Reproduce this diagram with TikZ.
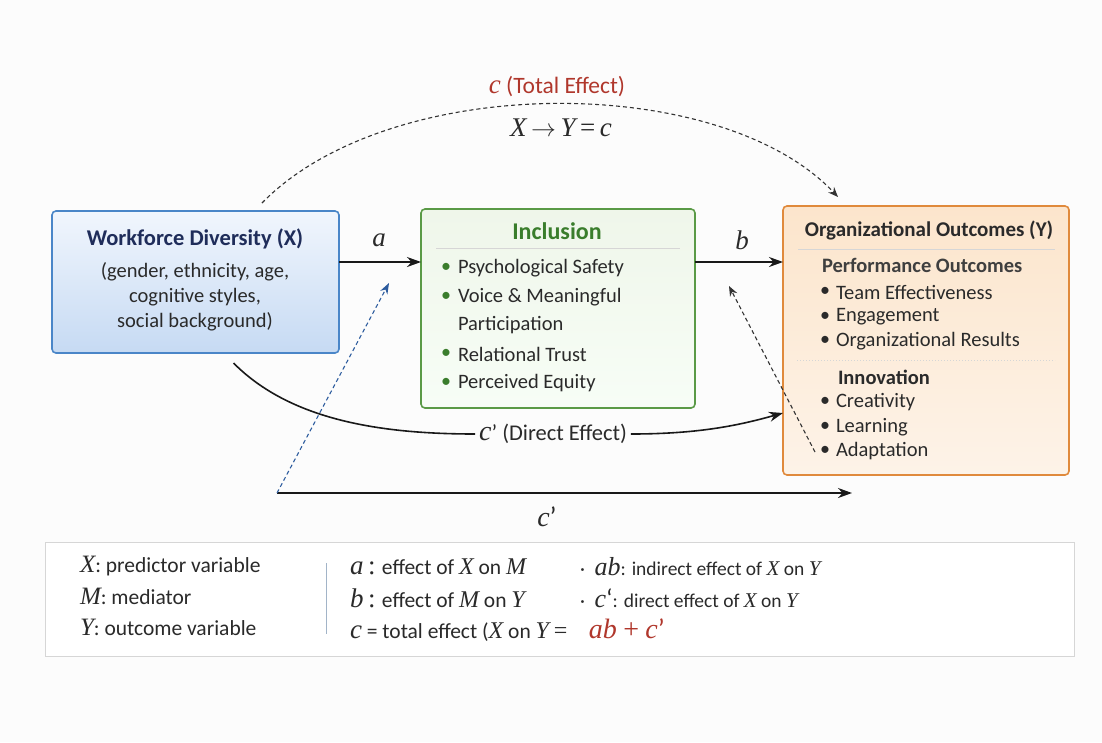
\documentclass[tikz,border=0pt]{standalone}
\usepackage{fontspec}
\setmainfont{Carlito}
\newfontfamily\mfont{Liberation Serif}
\usetikzlibrary{arrows.meta,calc}
\newcommand\mv[1]{{\mfont\itshape #1}}
\definecolor{bgc}{HTML}{FCFCFC}
\definecolor{blueB}{HTML}{4A86C8}
\definecolor{blueT}{HTML}{F1F6FD}
\definecolor{blueBt}{HTML}{C6DAF3}
\definecolor{navy}{HTML}{1F2D5A}
\definecolor{greenB}{HTML}{5A9A46}
\definecolor{greenF}{HTML}{EFF6EA}
\definecolor{greenT}{HTML}{3A7D2C}
\definecolor{orangeB}{HTML}{E08A3C}
\definecolor{orangeT}{HTML}{FCE5CC}
\definecolor{orangeBt}{HTML}{FDF3E8}
\definecolor{txt}{HTML}{2A2A2A}
\definecolor{redc}{HTML}{B0372C}
\definecolor{dblue}{HTML}{2C5B9E}
\definecolor{rule}{HTML}{D6D6D6}
\tikzset{
  every node/.style={inner sep=0pt, outer sep=0pt, text=txt},
  boxx/.style={draw=blueB, line width=1.6pt, rounded corners=4pt, top color=blueT, bottom color=blueBt, anchor=north west},
  boxm/.style={draw=greenB, line width=1.6pt, rounded corners=4pt, top color=greenF, bottom color=greenF!90!green!20, anchor=north west},
  boxy/.style={draw=orangeB, line width=1.6pt, rounded corners=4pt, top color=orangeT, bottom color=orangeBt, anchor=north west},
  body/.style={font=\fontsize{20.5}{22}\selectfont, anchor=west},
  bul/.style={font=\fontsize{20}{22}\selectfont, anchor=center},
  arr/.style={line width=1.6pt, draw=black!90, -{Stealth[length=14pt,width=10pt]}},
  darr/.style={line width=1.1pt, draw=black!80, dashed, dash pattern=on 4pt off 3pt, -{Stealth[length=10pt,width=8pt]}},
  leg/.style={font=\fontsize{21.5}{22}\selectfont, anchor=west},
  legs/.style={font=\fontsize{19.5}{20}\selectfont, anchor=west},
}
\begin{document}
\begin{tikzpicture}[x=1pt,y=-1pt]
\useasboundingbox[fill=bgc] (0,0) rectangle (1102,742);

% boxes
\node[boxx, minimum width=287, minimum height=142] (X) at (52,211) {};
\node[boxm, minimum width=274, minimum height=199] (M) at (421,209) {};
\node[boxy, minimum width=286, minimum height=269] (Y) at (783,206) {};

% X text
\node[font=\fontsize{22.5}{24}\selectfont\bfseries, text=navy] (xt) at (195,239) {Workforce Diversity (X)};
\node[font=\fontsize{20.5}{22}\selectfont] (x1) at (195,272) {(gender, ethnicity, age,};
\node[font=\fontsize{20.5}{22}\selectfont] (x2) at (195,297) {cognitive styles,};
\node[font=\fontsize{20.5}{22}\selectfont] (x3) at (195,322) {social background)};

% M text
\node[font=\fontsize{24}{26}\selectfont\bfseries, text=greenT] (mt) at (557,231) {Inclusion};
\draw[rule, line width=0.8pt] (436,248) -- (680,248);
\foreach \y/\t [count=\i] in {268/Psychological Safety,297/Voice \& Meaningful,354/Relational Trust,383/Perceived Equity}{
  \node[bul, text=greenT] (mb\i) at (446,\y) {\textbullet};
  \node[body] (mi\i) at (458,\y) {\t};
}
\node[body] (mi5) at (458,325) {Participation};

% Y text
\node[font=\fontsize{21}{24}\selectfont\bfseries] (yt) at (929,230) {Organizational Outcomes (Y)};
\draw[rule, line width=0.8pt] (798,249) -- (1055,249);
\node[body, font=\fontsize{20.5}{22}\selectfont\bfseries, text=txt!90] (yp) at (822,265) {Performance Outcomes};
\foreach \y/\t [count=\i] in {292/Team Effectiveness,317/Engagement,341/Organizational Results,402/Creativity,427/Learning,451/Adaptation}{
  \node[bul] (yb\i) at (825,\y) {\textbullet};
  \node[body] (yi\i) at (836,\y) {\t};
}
\draw[rule, line width=1pt, dotted] (797,360) -- (1055,360);
\node[body, font=\fontsize{20.5}{22}\selectfont\bfseries] (yn) at (838,377) {Innovation};

% a and b arrows
\coordinate (ay) at (0,262);
\draw[arr] (X.north east |- ay) -- (M.west |- ay);
\draw[arr] (M.north east |- ay) -- (Y.west |- ay);
\node[font=\fontsize{27}{27}\selectfont] (la) at (379,240) {\mv{a}};
\node[font=\fontsize{27}{27}\selectfont] (lb) at (742,240) {\mv{b}};

% total effect
\coordinate (cs0) at (262,203);
\coordinate (ce0) at (838,197);
\draw[darr] (cs0) .. controls (390,72) and (720,72) .. (ce0);
\node[font=\fontsize{23.5}{24}\selectfont, text=redc] (ct) at (557,87) {{\fontsize{27}{27}\selectfont\mv{c}} (Total Effect)};
\node[font=\fontsize{27}{28}\selectfont] (ce) at (561,128) {\mv{X}\,$\rightarrow$\,\mv{Y}\,{\mfont =}\,\mv{c}};

% direct effect curve
\node[font=\fontsize{22.5}{24}\selectfont] (cd) at (553,434) {{\fontsize{28}{28}\selectfont\mv{c}}’ (Direct Effect)};
\coordinate (cdy) at (0,413);
\draw[line width=1.6pt, draw=black!90] ($(X.south)+(38,10)$) .. controls (290,420) and (380,434) .. ([xshift=-4pt]cd.west);
\draw[arr] ([xshift=4pt]cd.east) .. controls (700,434) and (740,425) .. (Y.west |- cdy);

% bottom arrow
\coordinate (bs) at (277,493);
\coordinate (be) at (852,493);
\draw[arr, line width=1.8pt] (bs) -- (be);
\node[font=\fontsize{28}{28}\selectfont] (lc) at (547,517) {\mv{c}’};

% blue dashed
\coordinate (ma) at (389,283);
\draw[line width=1.1pt, draw=dblue, dash pattern=on 4pt off 3pt, -{Stealth[length=11pt,width=8pt]}] (bs) -- (ma);

% black dashed
\coordinate (ds) at (815,452);
\coordinate (de) at (729,286);
\draw[darr] (ds) -- (de);

% legend
\node[draw=rule, fill=white, line width=0.8pt, minimum width=1029, minimum height=114, anchor=north west] (L) at (45,542) {};
\draw[draw=blueB!50!gray!60, line width=1pt] (326,563) -- (326,634);
\node[leg] (l1) at (80,566) {{\fontsize{25}{26}\selectfont\mv{X}}: predictor variable};
\node[leg] (l2) at (80,596) {{\fontsize{25}{26}\selectfont\mv{M}}: mediator};
\node[leg] (l3) at (80,627) {{\fontsize{25}{26}\selectfont\mv{Y}}: outcome variable};
\node[leg] (m1) at (350,567) {{\fontsize{27}{27}\selectfont\mv{a}\,{\mfont:}} effect of {\fontsize{24}{24}\selectfont\mv{X}} on {\fontsize{24}{24}\selectfont\mv{M}}};
\node[leg] (m2) at (350,598) {{\fontsize{27}{27}\selectfont\mv{b}\,{\mfont:}} effect of {\fontsize{24}{24}\selectfont\mv{M}} on {\fontsize{24}{24}\selectfont\mv{Y}}};
\node[leg] (m3) at (350,630) {{\fontsize{27}{27}\selectfont\mv{c}} = total effect ({\fontsize{24}{24}\selectfont\mv{X}} on {\fontsize{24}{24}\selectfont\mv{Y}} {\fontsize{24}{24}\selectfont\mfont =}\enspace\enspace{\color{redc}\fontsize{28}{28}\selectfont\mv{ab} {\mfont +} \mv{c}’}};
\node[legs] (r1) at (580,567) {·\enspace{\fontsize{26}{26}\selectfont\mv{ab}}: indirect effect of {\fontsize{21}{21}\selectfont\mv{X}} on {\fontsize{21}{21}\selectfont\mv{Y}}};
\node[legs] (r2) at (580,598) {·\enspace{\fontsize{26}{26}\selectfont\mv{c}‘}: direct effect of {\fontsize{21}{21}\selectfont\mv{X}} on {\fontsize{21}{21}\selectfont\mv{Y}}};
\end{tikzpicture}
\end{document}
